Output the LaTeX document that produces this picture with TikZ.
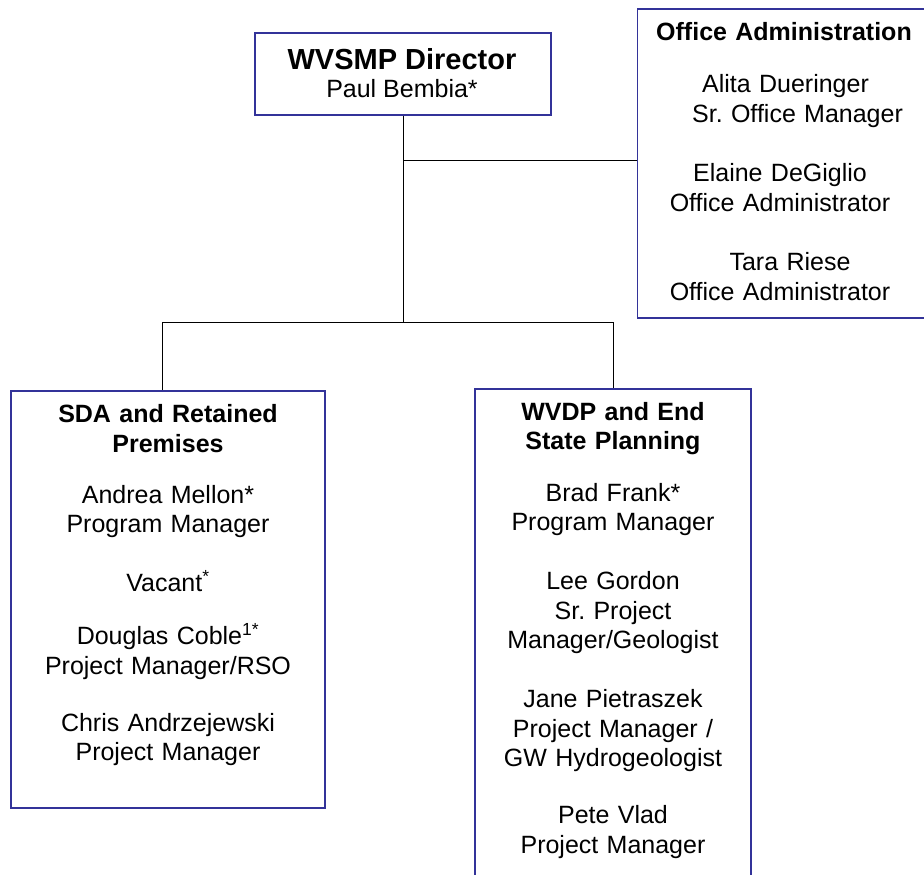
\documentclass[tikz,border=0pt]{standalone}
\usepackage{fontspec}
\setmainfont{Liberation Sans}
\definecolor{boxblue}{RGB}{51,51,153}
\newcommand{\nolsk}{\lineskiplimit=-30pt\relax}
\frenchspacing
\begin{document}
\frenchspacing
\begin{tikzpicture}[x=1pt,y=-1pt,
  box/.style={draw=boxblue, line width=1.3pt, fill=white, inner sep=0pt},
  conn/.style={draw=black, line width=1pt},
  txt/.style={inner sep=0pt, anchor=base, align=center,
    font=\fontsize{25}{29.4}\selectfont},
  body/.style={txt, text width=#1},
]
\clip (0,0) rectangle (924,875);
\fill[white] (0,0) rectangle (924,875);

% boxes
\node[box, minimum width=296pt, minimum height=82pt] (dir) at (403,74) {};
\node[box, minimum width=310pt, minimum height=309pt] (off) at (792.5,163.5) {};
\node[box, minimum width=314pt, minimum height=417pt] (sda) at (168,599.5) {};
\node[box, minimum width=276pt, minimum height=520pt] (wvdp) at (613,649) {};

% connector helper coordinates
\coordinate (tapy) at (0,160);
\coordinate (busy) at (0,322);
\coordinate (busL) at (162,322);
\coordinate (tap) at (dir.south |- tapy);
\coordinate (bus) at (dir.south |- busy);

% connectors
\draw[conn] (dir.south) -- (bus);
\draw[conn] (tap) -- (tap -| off.west);
\draw[conn] (busL) -- (bus -| wvdp.north);
\draw[conn] (busL) -- (busL |- sda.north);
\draw[conn] (bus -| wvdp.north) -- (wvdp.north);

% director
\node[txt, font=\bfseries\fontsize{29}{34}\selectfont] (dirT) at (402,70) {WVSMP Director};
\node[txt] (dirN) at (402,97.7) {Paul Bembia*};

% office administration
\node[body=285pt] (offT) at (780,41) {\nolsk\frenchspacing
{\bfseries\hspace*{8pt}Office Administration}\\[22.6pt]
\hspace*{11pt}Alita Dueringer\\
\hspace*{35pt}Sr. Office Manager\\[30.2pt]
Elaine DeGiglio\\
Office Administrator\\[30.2pt]
\hspace*{20pt}Tara Riese\\
Office Administrator};

% SDA
\node[body=300pt] (sdaT) at (168,422.7) {\nolsk\frenchspacing
{\bfseries SDA and Retained\\Premises}\\[21.6pt]
Andrea Mellon*\\
Program Manager\\[29.6pt]
Vacant\textsuperscript{*}\\[24pt]
Douglas Coble\textsuperscript{1*}\\
Project Manager/RSO\\[27.6pt]
Chris Andrzejewski\\
Project Manager};

% WVDP
\node[body=270pt] (wvdpT) at (613,420) {\nolsk\frenchspacing
{\bfseries WVDP and End\\State Planning}\\[22.6pt]
Brad Frank*\\
Program Manager\\[29.6pt]
Lee Gordon\\
Sr. Project\\
Manager/Geologist\\[29.6pt]
Jane Pietraszek\\
Project Manager /\\
GW Hydrogeologist\\[28pt]
Pete Vlad\\
Project Manager};
\end{tikzpicture}
\end{document}
